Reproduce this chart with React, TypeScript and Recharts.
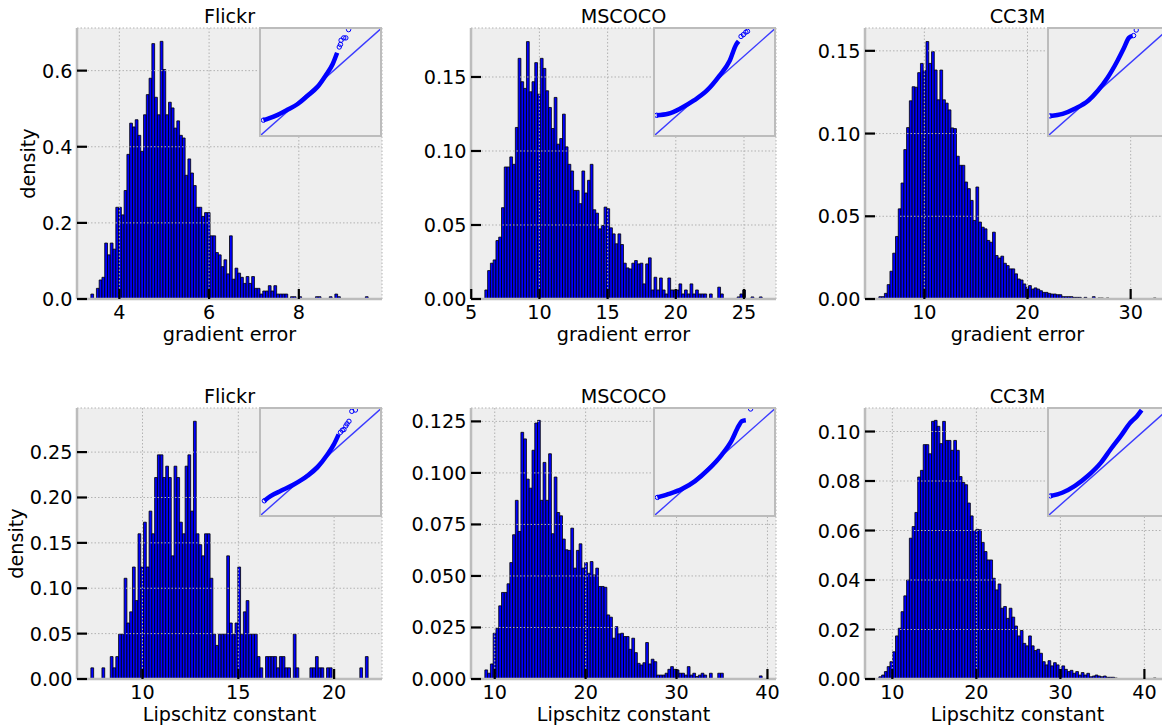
import React from 'react';
import { ComposedChart, Bar, Line, Scatter, XAxis, YAxis, CartesianGrid } from 'recharts';

const FONT = '"DejaVu Sans", Verdana, sans-serif';
const FS = 19.2;

const panelTitles = ['Flickr', 'MSCOCO', 'CC3M'];
const xLabels = ['gradient error', 'Lipschitz constant'];
const yLabel = 'density';

// ---------- Flickr, gradient error ----------
const flickrGradBinStart = 3.365;
const flickrGradBinWidth = 0.0618;
const flickrGradDensity = [
  0.013, 0, 0.028, 0.05, 0.057, 0.147, 0.116, 0.147, 0.131, 0.241,
  0.241, 0.221, 0.285, 0.38, 0.462, 0.452, 0.471, 0.43, 0.388, 0.484,
  0.537, 0.58, 0.671, 0.53, 0.484, 0.677, 0.603, 0.484, 0.517, 0.502,
  0.449, 0.468, 0.43, 0.423, 0.325, 0.368, 0.331, 0.298, 0.241, 0.241,
  0.217, 0.227, 0.227, 0.166, 0.166, 0.122, 0.116, 0.085, 0.103, 0.066,
  0.166, 0.052, 0.081, 0.068, 0.057, 0.041, 0.059, 0.041, 0.059, 0.028,
  0.028, 0.013, 0.021, 0.021, 0.035, 0.021, 0.035, 0.013, 0.013, 0.013,
  0.013, 0, 0.006, 0.006, 0, 0.006, 0, 0, 0, 0,
  0, 0.006, 0.006, 0, 0, 0, 0.006, 0, 0.013, 0.006,
  0, 0, 0, 0, 0, 0, 0, 0, 0, 0.006,
];
const flickrGradXTicks = [4, 6, 8];
const flickrGradYTicks = [0, 0.2, 0.4, 0.6];
const flickrGradYMax = 0.712;
const flickrGradQQ = [
  { u: 0.02, v: 0.14 }, { u: 0.06, v: 0.155 }, { u: 0.14, v: 0.19 }, { u: 0.225, v: 0.24 },
  { u: 0.31, v: 0.295 }, { u: 0.39, v: 0.37 }, { u: 0.47, v: 0.45 }, { u: 0.54, v: 0.56 },
  { u: 0.6, v: 0.67 }, { u: 0.637, v: 0.776 },
];
const flickrGradQQTail = [
  { u: 0.655, v: 0.83 }, { u: 0.665, v: 0.854 }, { u: 0.67, v: 0.894 }, { u: 0.692, v: 0.916 },
  { u: 0.71, v: 0.916 }, { u: 0.733, v: 0.994 },
];

// ---------- MSCOCO, gradient error ----------
const cocoGradBinStart = 6.0;
const cocoGradBinWidth = 0.2033;
const cocoGradDensity = [
  0.0061, 0.0192, 0.0242, 0.0264, 0.0395, 0.0418, 0.0617, 0.0892, 0.0892, 0.096,
  0.091, 0.1159, 0.1626, 0.1468, 0.1423, 0.1739, 0.14, 0.1468, 0.1597, 0.1384,
  0.1626, 0.1558, 0.1407, 0.1294, 0.1152, 0.1362, 0.1046, 0.1084, 0.1249, 0.1028,
  0.091, 0.0865, 0.0734, 0.0734, 0.0644, 0.0865, 0.0716, 0.0802, 0.091, 0.0603,
  0.058, 0.0474, 0.0497, 0.0621, 0.061, 0.0481, 0.044, 0.0373, 0.044, 0.0368,
  0.0242, 0.021, 0.0203, 0.0242, 0.026, 0.0237, 0.0242, 0.0102, 0.0237, 0.0278,
  0.0061, 0.0147, 0.0061, 0.0142, 0.0061, 0.0034, 0.0142, 0.0061, 0.0061, 0.0061,
  0.0102, 0.0034, 0.0061, 0.0034, 0.0102, 0.0034, 0.0061, 0.0034, 0.0034, 0.0034,
  0, 0.0034, 0, 0, 0.008, 0.0034, 0, 0, 0, 0,
  0, 0.0014, 0.0034, 0.0061, 0, 0, 0.0014, 0, 0, 0.0014,
];
const cocoGradXTicks = [5, 10, 15, 20, 25];
const cocoGradYTicks = [0, 0.05, 0.1, 0.15];
const cocoGradYMax = 0.1831;
const cocoGradQQ = [
  { u: 0.014, v: 0.186 }, { u: 0.11, v: 0.2 }, { u: 0.22, v: 0.255 }, { u: 0.326, v: 0.326 },
  { u: 0.435, v: 0.42 }, { u: 0.54, v: 0.56 }, { u: 0.625, v: 0.7 }, { u: 0.68, v: 0.855 },
  { u: 0.7, v: 0.885 },
];
const cocoGradQQTail = [
  { u: 0.72, v: 0.93 }, { u: 0.74, v: 0.947 }, { u: 0.76, v: 0.97 }, { u: 0.774, v: 0.978 },
];

// ---------- CC3M, gradient error ----------
const ccGradBinStart = 5.59;
const ccGradBinWidth = 0.2688;
const ccGradDensity = [
  0.0014, 0.0014, 0.0034, 0.0087, 0.0168, 0.0277, 0.0378, 0.0545, 0.0701, 0.0903,
  0.1036, 0.1198, 0.1283, 0.128, 0.1368, 0.1424, 0.138, 0.1556, 0.1424, 0.1495,
  0.1384, 0.1204, 0.1384, 0.1204, 0.1184, 0.1143, 0.1034, 0.103, 0.0863, 0.0808,
  0.0808, 0.0707, 0.0667, 0.0596, 0.0475, 0.0677, 0.0465, 0.0434, 0.0424, 0.0354,
  0.0343, 0.0404, 0.0263, 0.0248, 0.0259, 0.0216, 0.0202, 0.0182, 0.0182, 0.0152,
  0.0121, 0.0115, 0.0091, 0.0071, 0.0081, 0.006, 0.0067, 0.006, 0.005, 0.004,
  0.004, 0.0034, 0.003, 0.003, 0.0026, 0.0026, 0.0014, 0.0014, 0.0014, 0.0014,
  0.001, 0.001, 0.001, 0, 0.001, 0, 0, 0.0014, 0, 0.0006,
  0.0006, 0, 0.0006, 0, 0, 0, 0, 0, 0, 0,
  0, 0, 0, 0, 0, 0, 0, 0, 0, 0.0006,
];
const ccGradXTicks = [10, 20, 30];
const ccGradYTicks = [0, 0.05, 0.1, 0.15];
const ccGradYMax = 0.1638;
const ccGradQQ = [
  { u: 0.01, v: 0.18 }, { u: 0.114, v: 0.2 }, { u: 0.22, v: 0.25 }, { u: 0.33, v: 0.326 },
  { u: 0.41, v: 0.42 }, { u: 0.49, v: 0.54 }, { u: 0.573, v: 0.7 }, { u: 0.627, v: 0.82 },
  { u: 0.668, v: 0.916 }, { u: 0.7, v: 0.935 },
];
const ccGradQQTail = [{ u: 0.708, v: 0.938 }, { u: 0.73, v: 0.99 }];

// ---------- Flickr, Lipschitz constant ----------
const flickrLipBinStart = 7.305;
const flickrLipBinWidth = 0.1447;
const flickrLipDensity = [
  0.0123, 0, 0, 0, 0.0123, 0, 0, 0.0247, 0.0123, 0.0247,
  0.0494, 0.0494, 0.111, 0.0617, 0.074, 0.1234, 0.0864, 0.16, 0.1234, 0.1728,
  0.1234, 0.185, 0.16, 0.222, 0.247, 0.247, 0.222, 0.2345, 0.222, 0.1357,
  0.2345, 0.222, 0.1728, 0.16, 0.2345, 0.247, 0.185, 0.284, 0.16, 0.148,
  0.1357, 0.16, 0.16, 0.111, 0.0494, 0.037, 0.0494, 0.0494, 0.0494, 0.1357,
  0.0617, 0.0494, 0.0617, 0.1234, 0.0494, 0.074, 0.0864, 0.0494, 0.0494, 0.0494,
  0.0247, 0.0123, 0, 0.0247, 0.0247, 0.0247, 0.0247, 0.0123, 0.0247, 0.0247,
  0.0123, 0.0123, 0, 0.0494, 0.0123, 0, 0, 0, 0, 0.0123,
  0.0123, 0.0247, 0.0123, 0.0123, 0, 0.0123, 0.0123, 0, 0, 0,
  0, 0, 0, 0, 0, 0, 0, 0.0123, 0, 0.0247,
];
const flickrLipXTicks = [10, 15, 20];
const flickrLipYTicks = [0, 0.05, 0.1, 0.15, 0.2, 0.25];
const flickrLipYMax = 0.2986;
const flickrLipQQ = [
  { u: 0.028, v: 0.134 }, { u: 0.083, v: 0.18 }, { u: 0.167, v: 0.228 }, { u: 0.278, v: 0.29 },
  { u: 0.39, v: 0.37 }, { u: 0.47, v: 0.447 }, { u: 0.556, v: 0.57 }, { u: 0.61, v: 0.666 },
  { u: 0.65, v: 0.76 },
];
const flickrLipQQTail = [
  { u: 0.665, v: 0.78 }, { u: 0.68, v: 0.8 }, { u: 0.694, v: 0.806 }, { u: 0.71, v: 0.84 },
  { u: 0.72, v: 0.86 }, { u: 0.736, v: 0.884 }, { u: 0.76, v: 0.978 }, { u: 0.79, v: 0.99 },
];

// ---------- MSCOCO, Lipschitz constant ----------
const cocoLipBinStart = 8.915;
const cocoLipBinWidth = 0.305;
const cocoLipDensity = [
  0.0044, 0.0028, 0.0073, 0.0222, 0.0246, 0.0355, 0.042, 0.042, 0.0462, 0.0565,
  0.07, 0.0867, 0.0716, 0.1197, 0.1165, 0.097, 0.0926, 0.111, 0.1242, 0.1255,
  0.0867, 0.1051, 0.0867, 0.1093, 0.0705, 0.098, 0.0808, 0.0792, 0.0679, 0.0627,
  0.0624, 0.0732, 0.0538, 0.0624, 0.0656, 0.0538, 0.0565, 0.0513, 0.057, 0.0505,
  0.0538, 0.0449, 0.0449, 0.0445, 0.0311, 0.03, 0.0198, 0.0254, 0.0219, 0.0222,
  0.0206, 0.0206, 0.0144, 0.0198, 0.0128, 0.0076, 0.0068, 0.0079, 0.0177, 0.0073,
  0.0096, 0.0084, 0.0019, 0.0019, 0.0019, 0.0028, 0.0047, 0.006, 0.0047, 0.0044,
  0.0028, 0.0028, 0.0019, 0.006, 0.0019, 0.0028, 0.0012, 0.0019, 0.0028, 0.0019,
  0, 0.0028, 0, 0, 0.0028, 0.0028, 0, 0, 0, 0,
  0, 0, 0, 0, 0, 0, 0, 0, 0, 0.0015,
];
const cocoLipXTicks = [10, 20, 30, 40];
const cocoLipYTicks = [0, 0.025, 0.05, 0.075, 0.1, 0.125];
const cocoLipYMax = 0.1315;
const cocoLipQQ = [
  { u: 0.02, v: 0.166 }, { u: 0.11, v: 0.197 }, { u: 0.223, v: 0.244 }, { u: 0.335, v: 0.32 },
  { u: 0.447, v: 0.43 }, { u: 0.56, v: 0.57 }, { u: 0.64, v: 0.7 }, { u: 0.7, v: 0.84 },
  { u: 0.726, v: 0.884 }, { u: 0.76, v: 0.894 },
];
const cocoLipQQTail = [{ u: 0.8, v: 1.0 }];

// ---------- CC3M, Lipschitz constant ----------
const ccLipBinStart = 8.396;
const ccLipBinWidth = 0.33;
const ccLipDensity = [
  0.0009, 0.0016, 0.003, 0.005, 0.007, 0.011, 0.0174, 0.0205, 0.0272, 0.0336,
  0.04, 0.0569, 0.0616, 0.0673, 0.0816, 0.0843, 0.0947, 0.0947, 0.091, 0.1041,
  0.1045, 0.1021, 0.0951, 0.1041, 0.0964, 0.0964, 0.0924, 0.0964, 0.0924, 0.0818,
  0.0794, 0.0785, 0.0711, 0.0659, 0.06, 0.0605, 0.0603, 0.0552, 0.0515, 0.0481,
  0.0481, 0.0407, 0.036, 0.0384, 0.0286, 0.0293, 0.0245, 0.0286, 0.025, 0.0214,
  0.0174, 0.0196, 0.0144, 0.0134, 0.0174, 0.0134, 0.0115, 0.012, 0.0104, 0.007,
  0.0057, 0.0074, 0.0053, 0.0066, 0.0057, 0.0039, 0.0053, 0.0039, 0.003, 0.0035,
  0.0023, 0.003, 0.0016, 0.0026, 0.0016, 0.0023, 0.0009, 0.0012, 0.0016, 0.0012,
  0.0009, 0.0012, 0.0007, 0.0007, 0.0007, 0.0004, 0, 0, 0, 0,
  0, 0, 0, 0, 0, 0, 0, 0, 0, 0.0004,
];
const ccLipXTicks = [10, 20, 30, 40];
const ccLipYTicks = [0, 0.02, 0.04, 0.06, 0.08, 0.1];
const ccLipYMax = 0.1095;
const ccLipQQ = [
  { u: 0.014, v: 0.18 }, { u: 0.11, v: 0.21 }, { u: 0.217, v: 0.275 }, { u: 0.326, v: 0.37 },
  { u: 0.435, v: 0.494 }, { u: 0.516, v: 0.62 }, { u: 0.6, v: 0.744 }, { u: 0.68, v: 0.87 },
  { u: 0.734, v: 0.93 }, { u: 0.775, v: 0.99 },
];
const ccLipQQTail: { u: number; v: number }[] = [];

const qqReference = [{ u: 0, v: 0 }, { u: 1, v: 1 }];

// ---------- layout ----------
const PLOT_W = 305;
const PLOT_H = 271;
const Y_AXIS_W = 77;
const X_AXIS_H = 50;
const COL_LEFT = [77, 471, 865];
const ROW_TOP = [28, 408];
const BG = '#eeeeee';
const SPINE = '#bcbcbc';

type QQ = { u: number; v: number };

type PanelSpec = {
  start: number;
  width: number;
  values: number[];
  xTicks: number[];
  yTicks: number[];
  yMax: number;
  digits: number;
  qq: QQ[];
  tail: QQ[];
};

const panels: PanelSpec[][] = [
  [
    { start: flickrGradBinStart, width: flickrGradBinWidth, values: flickrGradDensity, xTicks: flickrGradXTicks, yTicks: flickrGradYTicks, yMax: flickrGradYMax, digits: 1, qq: flickrGradQQ, tail: flickrGradQQTail },
    { start: cocoGradBinStart, width: cocoGradBinWidth, values: cocoGradDensity, xTicks: cocoGradXTicks, yTicks: cocoGradYTicks, yMax: cocoGradYMax, digits: 2, qq: cocoGradQQ, tail: cocoGradQQTail },
    { start: ccGradBinStart, width: ccGradBinWidth, values: ccGradDensity, xTicks: ccGradXTicks, yTicks: ccGradYTicks, yMax: ccGradYMax, digits: 2, qq: ccGradQQ, tail: ccGradQQTail },
  ],
  [
    { start: flickrLipBinStart, width: flickrLipBinWidth, values: flickrLipDensity, xTicks: flickrLipXTicks, yTicks: flickrLipYTicks, yMax: flickrLipYMax, digits: 2, qq: flickrLipQQ, tail: flickrLipQQTail },
    { start: cocoLipBinStart, width: cocoLipBinWidth, values: cocoLipDensity, xTicks: cocoLipXTicks, yTicks: cocoLipYTicks, yMax: cocoLipYMax, digits: 3, qq: cocoLipQQ, tail: cocoLipQQTail },
    { start: ccLipBinStart, width: ccLipBinWidth, values: ccLipDensity, xTicks: ccLipXTicks, yTicks: ccLipYTicks, yMax: ccLipYMax, digits: 2, qq: ccLipQQ, tail: ccLipQQTail },
  ],
];

const XTick = (props: any) => {
  const { x, y, payload } = props;
  return (
    <g>
      <line x1={x} y1={y} x2={x} y2={y - 10} stroke="#000" strokeWidth={2.2} />
      <text x={x} y={y + 20} textAnchor="middle" fontFamily={FONT} fontSize={FS} fill="#000">
        {String(payload.value)}
      </text>
    </g>
  );
};

const makeYTick = (digits: number) => (props: any) => {
  const { x, y, payload } = props;
  return (
    <g>
      <line x1={x} y1={y} x2={x + 10} y2={y} stroke="#000" strokeWidth={2.2} />
      <text x={x - 4.5} y={y + 7} textAnchor="end" fontFamily={FONT} fontSize={FS} fill="#000">
        {Number(payload.value).toFixed(digits)}
      </text>
    </g>
  );
};

const HollowDot = (props: any) => {
  const { cx, cy } = props;
  if (cx == null || cy == null) return <g />;
  return <circle cx={cx} cy={cy} r={2.2} fill="none" stroke="#0000ff" strokeWidth={1} />;
};

function Histogram({ spec, left, top }: { spec: PanelSpec; left: number; top: number }) {
  const data = spec.values.map((d, i) => ({ x: spec.start + (i + 0.5) * spec.width, d }));
  const xMin = spec.start - 5 * spec.width;
  const xMax = spec.start + 105 * spec.width;
  const chartW = Y_AXIS_W + PLOT_W + 10;
  const chartH = 28 + PLOT_H + X_AXIS_H + 10;
  return (
    <div style={{ position: 'absolute', left: left - Y_AXIS_W, top: top - 28 }}>
      <ComposedChart
        width={chartW}
        height={chartH}
        data={data}
        margin={{ top: 28, right: 10, bottom: 10, left: 0 }}
        barCategoryGap={0}
        barGap={0}
      >
        <CartesianGrid horizontal={false} vertical={false} fill={BG} fillOpacity={1} />
        <Bar
          dataKey="d"
          fill="#0000ff"
          stroke="#000000"
          strokeWidth={0.8}
          barSize={PLOT_W / 110 - 0.01}
          isAnimationActive={false}
        />
        <CartesianGrid stroke="#b2b2b2" strokeDasharray="1.5 2" strokeWidth={1} zIndex={350} />
        <XAxis
          type="number"
          dataKey="x"
          domain={[xMin, xMax]}
          ticks={spec.xTicks}
          interval={0}
          height={X_AXIS_H}
          tickSize={0}
          tickMargin={0}
          axisLine={{ stroke: SPINE, strokeWidth: 2.5 }}
          tickLine={false}
          tick={XTick}
        />
        <YAxis
          type="number"
          domain={[0, spec.yMax]}
          ticks={spec.yTicks}
          interval={0}
          width={Y_AXIS_W}
          tickSize={0}
          tickMargin={0}
          axisLine={{ stroke: SPINE, strokeWidth: 2.5 }}
          tickLine={false}
          tick={makeYTick(spec.digits)}
        />
      </ComposedChart>
    </div>
  );
}

function Inset({ spec, left, top }: { spec: PanelSpec; left: number; top: number }) {
  const W = 122;
  const H = 108.4;
  const x0 = left + PLOT_W - W;
  return (
    <div
      style={{
        position: 'absolute',
        left: x0 - 1.25,
        top: top - 1.25,
        width: W - 2.5,
        height: H - 2.5,
        border: `2.5px solid ${SPINE}`,
        background: BG,
      }}
    >
      <ComposedChart width={W - 2.5} height={Math.round(H - 2.5)} margin={{ top: 0, right: 0, bottom: 0, left: 0 }}>
        <XAxis type="number" dataKey="u" domain={[0, 1]} hide />
        <YAxis type="number" dataKey="v" domain={[0, 1]} hide />
        <Line data={qqReference} dataKey="v" stroke="#3b3bff" strokeWidth={1.4} dot={false} isAnimationActive={false} />
        <Line data={spec.qq} dataKey="v" type="monotone" stroke="#0000ff" strokeWidth={4.5} dot={false} isAnimationActive={false} />
        <Scatter data={[spec.qq[0]]} dataKey="v" shape={HollowDot} isAnimationActive={false} />
        <Scatter data={spec.tail} dataKey="v" shape={HollowDot} isAnimationActive={false} />
      </ComposedChart>
    </div>
  );
}

export default function App() {
  return (
    <div style={{ position: 'absolute', left: 0, top: 0, width: 1162, height: 725, overflow: 'hidden', background: '#ffffff' }}>
      {panels.map((row, r) =>
        row.map((spec, c) => (
          <React.Fragment key={`${r}-${c}`}>
            <Histogram spec={spec} left={COL_LEFT[c]} top={ROW_TOP[r]} />
            <Inset spec={spec} left={COL_LEFT[c]} top={ROW_TOP[r]} />
          </React.Fragment>
        ))
      )}
      <svg width={1162} height={725} style={{ position: 'absolute', left: 0, top: 0, pointerEvents: 'none' }}>
        {ROW_TOP.map((top, r) =>
          COL_LEFT.map((left, c) => (
            <g key={`t-${r}-${c}`}>
              <text x={left + PLOT_W / 2} y={top - 4.7} textAnchor="middle" fontFamily={FONT} fontSize={FS} fill="#000">
                {panelTitles[c]}
              </text>
              <text x={left + PLOT_W / 2} y={top + PLOT_H + 41.5} textAnchor="middle" fontFamily={FONT} fontSize={FS} fill="#000">
                {xLabels[r]}
              </text>
            </g>
          ))
        )}
        <text transform={`translate(35, ${28 + PLOT_H / 2}) rotate(-90)`} textAnchor="middle" fontFamily={FONT} fontSize={FS} fill="#000">
          {yLabel}
        </text>
        <text transform={`translate(23, ${408 + PLOT_H / 2}) rotate(-90)`} textAnchor="middle" fontFamily={FONT} fontSize={FS} fill="#000">
          {yLabel}
        </text>
      </svg>
    </div>
  );
}
